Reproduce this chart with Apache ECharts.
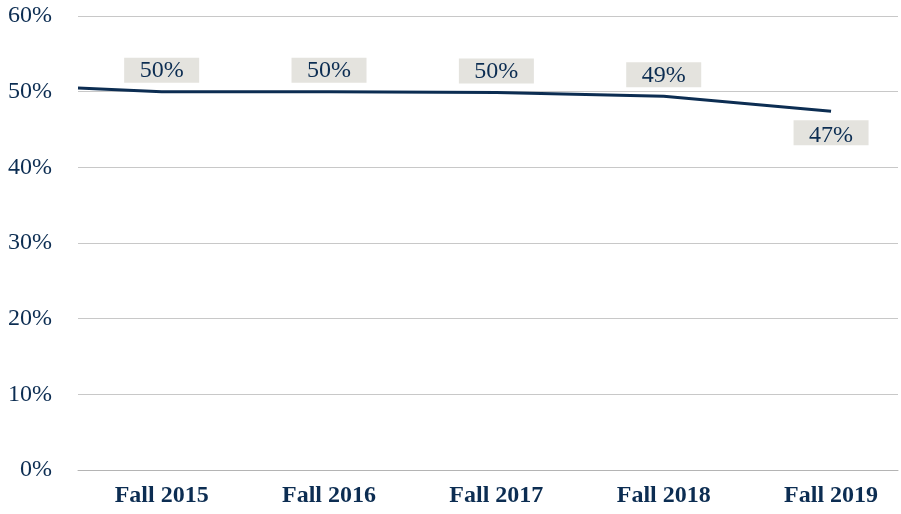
<!DOCTYPE html>
<html>
<head>
<meta charset="utf-8">
<script src="https://cdn.jsdelivr.net/npm/echarts@6/dist/echarts.min.js"></script>
<style>
  html, body { margin: 0; padding: 0; background: #fff; }
  #chart { width: 901px; height: 514px; }
</style>
</head>
<body>
<div id="chart"></div>
<script>
// categories and values
const terms = ['Fall 2015', 'Fall 2016', 'Fall 2017', 'Fall 2018', 'Fall 2019']
const rates = [50.0, 50.0, 49.9, 49.4, 47.4]
// the line enters from the left edge of the plot
const leadIn = [-0.5, 50.5]
const yTicks = [0, 10, 20, 30, 40, 50, 60]

const navy = '#0c2d52'
const serif = '"Liberation Serif", "DejaVu Serif", serif'

let myChart = echarts.init(document.getElementById('chart'))
let points = [leadIn].concat(rates.map((v, i) => [i, v]))

let option = {
  animation: false,
  grid: {
    left: 78,
    right: 3,
    top: 16,
    bottom: 44,
  },
  xAxis: {
    type: 'value',
    min: -0.5,
    max: 4.4,
    axisLine: {
      show: true,
      lineStyle: { color: '#b4b4b4', width: 1 },
    },
    axisTick: { show: false },
    splitLine: { show: false },
    axisLabel: {
      customValues: terms.map((t, i) => i),
      formatter: (v) => terms[Math.round(v)],
      color: navy,
      fontFamily: serif,
      fontWeight: 'bold',
      fontSize: 24,
      margin: 14,
    },
  },
  yAxis: {
    type: 'value',
    min: yTicks[0],
    max: yTicks[yTicks.length - 1],
    interval: 10,
    axisLine: { show: false },
    axisTick: { show: false },
    splitLine: {
      lineStyle: { color: '#c8c8c8', width: 1 },
    },
    axisLabel: {
      formatter: '{value}%',
      color: navy,
      fontFamily: serif,
      fontSize: 24,
      margin: 26,
    },
  },
  series: [
    {
      type: 'line',
      data: points,
      symbol: 'circle',
      symbolSize: 0,
      showSymbol: true,
      itemStyle: { color: navy },
      lineStyle: { color: navy, width: 3 },
      label: {
        show: true,
        position: 'top',
        distance: 9,
        formatter: (p) => (p.dataIndex === 0 ? '' : Math.round(p.value[1]) + '%'),
        color: navy,
        fontFamily: serif,
        fontSize: 24,
        backgroundColor: '#e4e3de',
        width: 43,
        height: 22,
        lineHeight: 24,
        padding: [3, 16, 0, 16],
        align: 'center',
      },
    },
  ],
}

// last label sits under the line
option.series[0].data = points.map((pt, i) => {
  if (i === 0) return { value: pt, label: { show: false } }
  if (i === points.length - 1) return { value: pt, label: { position: 'bottom' } }
  return pt
})

myChart.setOption(option)
window.addEventListener('resize', () => {
  myChart.resize()
})
</script>
</body>
</html>
